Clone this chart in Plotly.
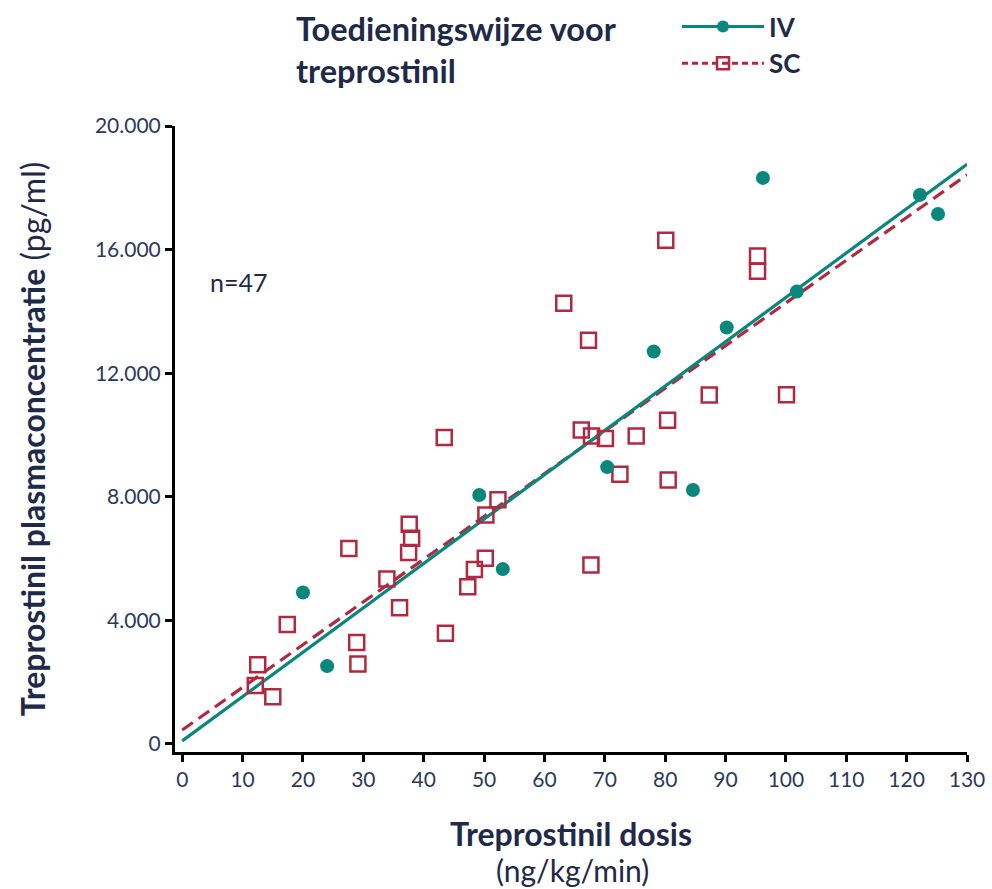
import plotly.graph_objects as go

# IV (intravenous) data: dose (ng/kg/min), plasma concentration (pg/ml)
iv_dose = [20.0, 24.0, 49.2, 53.1, 70.4, 78.1, 84.6, 90.2, 96.2, 101.8, 122.2, 125.2]
iv_conc = [4900, 2520, 8060, 5660, 8960, 12700, 8220, 13480, 18320, 14640, 17770, 17150]

# SC (subcutaneous) data
sc_dose = [43.4, 52.3, 50.3, 37.6, 38.0, 37.5, 27.6, 33.9, 50.2, 48.4, 47.3, 36.0,
           17.4, 43.6, 28.9, 29.1, 12.5, 12.1, 15.0,
           80.1, 95.3, 95.3, 63.2, 67.3, 100.1, 87.3, 80.4, 66.1, 67.8, 70.1, 75.2,
           72.5, 80.5, 67.7]
sc_conc = [9920, 7900, 7410, 7110, 6660, 6200, 6330, 5340, 6010, 5650, 5090, 4410,
           3870, 3580, 3280, 2590, 2560, 1890, 1530,
           16300, 15790, 15300, 14260, 13070, 11300, 11290, 10480, 10160, 9970, 9890, 9970,
           8730, 8540, 5790]

# Regression lines
fit_dose = [0, 130]
iv_fit_conc = [100, 18760]
sc_fit_conc = [450, 18420]

x_ticks = list(range(0, 131, 10))
y_ticks = [0, 4000, 8000, 12000, 16000, 20000]

TEAL = "#0a877c"
RED = "#b2293f"
NAVY = "#1e2a48"
TICK = "#2c3a5a"
FONT = "Lato"
DASH = "13px,7px"

L, R, T, B, W, H = 175, 25, 126, 137, 992, 889
PW, PH = W - L - R, H - T - B

fig = go.Figure()

fig.add_trace(go.Scatter(x=fit_dose, y=sc_fit_conc, mode="lines",
                         line=dict(color=RED, width=3.2, dash=DASH),
                         showlegend=False, hoverinfo="skip"))
fig.add_trace(go.Scatter(x=fit_dose, y=iv_fit_conc, mode="lines",
                         line=dict(color=TEAL, width=3.2),
                         showlegend=False, hoverinfo="skip"))
fig.add_trace(go.Scatter(x=sc_dose, y=sc_conc, mode="markers", name="SC",
                         marker=dict(symbol="square-open", size=15, color=RED,
                                     line=dict(width=2.5, color=RED)),
                         showlegend=False, cliponaxis=False))
fig.add_trace(go.Scatter(x=iv_dose, y=iv_conc, mode="markers", name="IV",
                         marker=dict(symbol="circle", size=14, color=TEAL),
                         showlegend=False, cliponaxis=False))

# legend entries
fig.add_trace(go.Scatter(x=[None], y=[None], mode="lines+markers", name="<b>IV</b>",
                         line=dict(color=TEAL, width=3),
                         marker=dict(symbol="circle", size=12, color=TEAL),
                         legendgroup="iv"))
fig.add_trace(go.Scatter(x=[None], y=[None], mode="lines+markers", name="<b>SC</b>",
                         line=dict(color=RED, width=3, dash="6px,4px"),
                         marker=dict(symbol="square-open", size=12, color=RED,
                                     line=dict(width=2.5, color=RED)),
                         legendgroup="sc"))

axis_common = dict(showline=True, linecolor="black", linewidth=3, ticks="outside",
                   ticklen=7, tickwidth=2.5, tickcolor="black", showgrid=False,
                   zeroline=False, automargin=False, tickangle=0,
                   tickfont=dict(family=FONT, size=21, color=TICK))

fig.update_xaxes(range=[-1.2, 130], tickvals=x_ticks, **axis_common,
                 title=dict(text="<b>Treprostinil dosis</b>",
                            font=dict(family=FONT, size=32, color=NAVY), standoff=34))
fig.update_yaxes(range=[-260, 20000], tickvals=y_ticks, tickformat=",", **axis_common,
                 title=dict(text="<b>Treprostinil plasmaconcentratie</b> (pg/ml)",
                            font=dict(family=FONT, size=32, color=NAVY), standoff=40))

fig.add_annotation(xref="paper", yref="paper", x=(572 - L) / PW, y=(H - B - 870) / PH,
                   xanchor="center", yanchor="middle", showarrow=False,
                   text="(ng/kg/min)", font=dict(family=FONT, size=30, color=NAVY))
fig.add_annotation(x=9.3, y=14950, text="n=47", showarrow=False,
                   font=dict(family=FONT, size=25, color=NAVY))
fig.add_annotation(xref="paper", yref="paper", x=(294 - L) / PW, y=(H - B - 7) / PH,
                   xanchor="left", yanchor="top", align="left", showarrow=False,
                   text="<b>Toedieningswijze voor<br>treprostinil</b>",
                   font=dict(family=FONT, size=32.5, color=NAVY))

fig.update_layout(
    width=W, height=H,
    margin=dict(l=L, r=R, t=T, b=B, autoexpand=False),
    plot_bgcolor="white", paper_bgcolor="white",
    separators=",.",
    font=dict(family=FONT, color=NAVY),
    legend=dict(x=(677 - L) / PW, y=(H - B - 3) / PH,
                xanchor="left", yanchor="top",
                font=dict(family=FONT, size=26, color=NAVY), tracegroupgap=0,
                itemwidth=82, bgcolor="rgba(0,0,0,0)"),
)

fig.write_html("out.html")
